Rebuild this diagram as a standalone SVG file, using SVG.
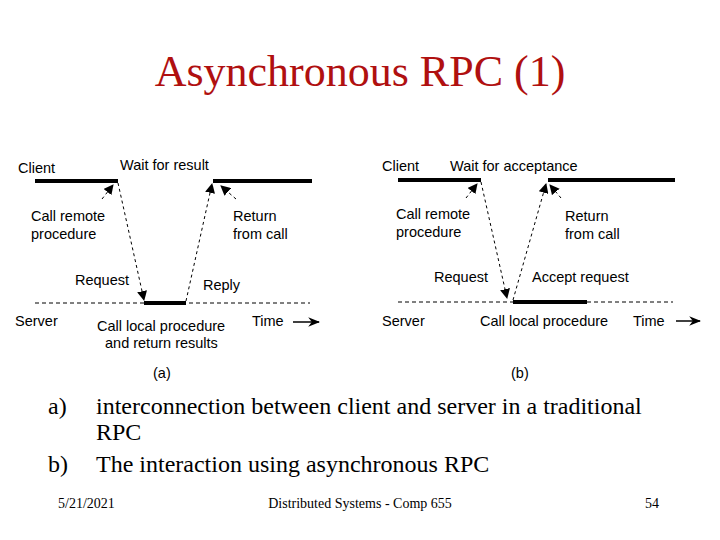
<svg xmlns="http://www.w3.org/2000/svg" width="720" height="540" viewBox="0 0 720 540">
<defs>
<style>
.s{font-family:"Liberation Sans",Arial,sans-serif;font-size:14.5px;fill:#000}
.t{font-family:"Liberation Serif","Times New Roman",serif;fill:#000}
.b{stroke:#000;stroke-width:4;fill:none}
.d{stroke:#000;stroke-width:1;stroke-dasharray:4,3;fill:none}
.a{stroke:#000;stroke-width:1;stroke-dasharray:3,3;fill:none;marker-end:url(#ah)}
</style>
<marker id="ah" viewBox="0 0 10 10" refX="9" refY="5" markerWidth="10" markerHeight="10" orient="auto" markerUnits="userSpaceOnUse"><path d="M0,0 L10,5 L0,10 z" fill="#000"/></marker>
<marker id="ta" viewBox="0 0 10 10" refX="9" refY="5" markerWidth="12" markerHeight="12" orient="auto" markerUnits="userSpaceOnUse"><path d="M0,1 L10,5 L0,9 L3,5 z" fill="#000"/></marker>
</defs>
<rect width="720" height="540" fill="#fff"/>
<text x="360" y="86" font-family="Liberation Serif,'Times New Roman',serif" font-size="44" fill="#b01010" text-anchor="middle">Asynchronous RPC (1)</text>
<g id="diagram-a">
<line class="b" x1="35" y1="181" x2="118" y2="181"/>
<line class="b" x1="213" y1="181" x2="312" y2="181"/>
<line class="d" x1="35" y1="303" x2="310" y2="303"/>
<line class="b" x1="144" y1="303" x2="186" y2="303"/>
<text class="s" x="18" y="173">Client</text>
<text class="s" x="120" y="170">Wait for result</text>
<text class="s" x="31" y="221">Call remote</text>
<text class="s" x="31" y="239">procedure</text>
<text class="s" x="233" y="221">Return</text>
<text class="s" x="233" y="239">from call</text>
<text class="s" x="75" y="285">Request</text>
<text class="s" x="203" y="290">Reply</text>
<text class="s" x="15" y="326">Server</text>
<text class="s" x="97" y="331">Call local procedure</text>
<text class="s" x="105" y="348">and return results</text>
<text class="s" x="252" y="326">Time</text>
<text class="s" x="153" y="378">(a)</text>
</g>
<g id="diagram-b">
<line class="b" x1="398" y1="180" x2="481" y2="180"/>
<line class="b" x1="548" y1="180" x2="675" y2="180"/>
<line class="d" x1="398" y1="302" x2="673" y2="302"/>
<line class="b" x1="513" y1="302" x2="587" y2="302"/>
<text class="s" x="382" y="171">Client</text>
<text class="s" x="450" y="171">Wait for acceptance</text>
<text class="s" x="396" y="219">Call remote</text>
<text class="s" x="396" y="237">procedure</text>
<text class="s" x="565" y="221">Return</text>
<text class="s" x="565" y="239">from call</text>
<text class="s" x="434" y="282">Request</text>
<text class="s" x="532" y="282">Accept request</text>
<text class="s" x="382" y="326">Server</text>
<text class="s" x="480" y="326">Call local procedure</text>
<text class="s" x="633" y="326">Time</text>
<text class="s" x="511" y="378">(b)</text>
</g>
<g id="connectors">
<line class="a" x1="118" y1="183" x2="144" y2="300"/>
<line class="a" x1="186" y1="301" x2="212" y2="184"/>
<line class="a" x1="102" y1="199" x2="113" y2="185"/>
<line class="a" x1="236" y1="199" x2="221" y2="186"/>
<line class="a" x1="481" y1="182" x2="507" y2="298"/>
<line class="a" x1="513" y1="300" x2="546" y2="184"/>
<line class="a" x1="466" y1="198" x2="477" y2="184"/>
<line class="a" x1="561" y1="198" x2="550" y2="185"/>
<line stroke="#000" stroke-width="1.5" x1="293" y1="322" x2="319" y2="322" marker-end="url(#ta)"/>
<line stroke="#000" stroke-width="1.5" x1="676" y1="321" x2="700" y2="321" marker-end="url(#ta)"/>
</g>
<g id="caption">
<text class="t" x="48" y="414" font-size="24">a)</text>
<text class="t" x="96" y="414" font-size="24">interconnection between client and server in a traditional</text>
<text class="t" x="96" y="440" font-size="24">RPC</text>
<text class="t" x="48" y="472" font-size="24">b)</text>
<text class="t" x="96" y="472" font-size="24">The interaction using asynchronous RPC</text>
<text class="t" x="58" y="508" font-size="14">5/21/2021</text>
<text class="t" x="360" y="508" font-size="14" text-anchor="middle">Distributed Systems - Comp 655</text>
<text class="t" x="645" y="508" font-size="14">54</text>
</g>
</svg>
